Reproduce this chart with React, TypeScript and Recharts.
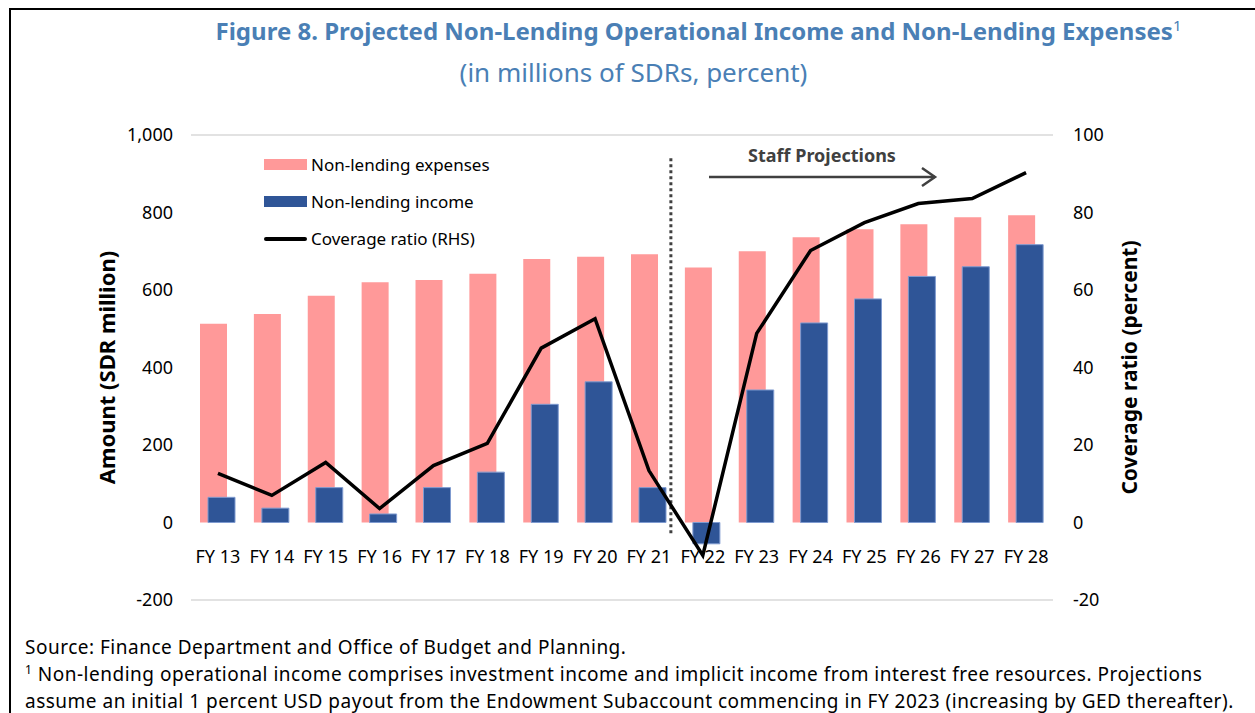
import React from 'react';
import { ComposedChart, Bar, Line, XAxis, YAxis, CartesianGrid, Legend, ReferenceLine } from 'recharts';

const years = ['FY 13', 'FY 14', 'FY 15', 'FY 16', 'FY 17', 'FY 18', 'FY 19', 'FY 20', 'FY 21', 'FY 22', 'FY 23', 'FY 24', 'FY 25', 'FY 26', 'FY 27', 'FY 28'];
const expenses = [513, 538, 585, 620, 626, 642, 680, 686, 692, 658, 700, 736, 757, 770, 788, 793];
const income = [65, 37, 90, 22, 90, 130, 305, 363, 90, -55, 342, 515, 577, 635, 660, 717];
const coverage = [12.7, 7.0, 15.5, 3.6, 14.7, 20.4, 45.0, 52.6, 13.4, -8.5, 48.8, 70.2, 77.4, 82.3, 83.6, 90.3];
const leftTicks = [-200, 0, 200, 400, 600, 800, 1000];
const rightTicks = [-20, 0, 20, 40, 60, 80, 100];

const FONT = '"Segoe UI", "Noto Sans", "Open Sans", sans-serif';
const BLUE_TITLE = '#4a7fb5';
const EXP = '#ff9999';
const INC = '#2f5597';

const data = years.map((year, i) => ({
    year,
    expenses: expenses[i],
    income: income[i],
    coverage: coverage[i],
}));

const fmt = (v: number) => v.toLocaleString('en-US');

function YearTick({ x, y, payload }: any) {
    // labels sit just under the zero line, not under the -200 line
    return (
        <text x={x} y={y - 50} textAnchor="middle" dominantBaseline="middle" fontSize={18} fill="#000" fontFamily={FONT}>
            {payload.value}
        </text>
    );
}

// divider between actuals and projections, nudged a little left of the band edge
function Divider(props: any) {
    const { x1, y1, x2, y2 } = props;
    return <line x1={x1 - 5} y1={y1} x2={x2 - 5} y2={y2} stroke="#404040" strokeWidth={3} strokeDasharray="3 3" />;
}

function LegendBox() {
    const rows = [
        { label: 'Non-lending expenses', kind: 'bar', color: EXP },
        { label: 'Non-lending income', kind: 'bar', color: INC },
        { label: 'Coverage ratio (RHS)', kind: 'line', color: '#000' },
    ];
    return (
        <div style={{ fontFamily: FONT, fontSize: 17, color: '#000' }}>
            {rows.map((r) => (
                <div key={r.label} style={{ display: 'flex', alignItems: 'center', height: 37 }}>
                    {r.kind === 'bar' ? (
                        <span style={{ display: 'inline-block', width: 43, height: 11, background: r.color }} />
                    ) : (
                        <span style={{ display: 'inline-block', width: 43, height: 4, borderRadius: 2, background: r.color }} />
                    )}
                    <span style={{ marginLeft: 4 }}>{r.label}</span>
                </div>
            ))}
        </div>
    );
}

export default function App() {
    return (
        <div style={{ position: 'absolute', left: 0, top: 0, width: 1255, height: 713, background: '#fff', overflow: 'hidden', fontFamily: FONT }}>
            <div style={{ position: 'absolute', left: 9, top: 8, width: 1300, height: 720, borderLeft: '2px solid #000', borderTop: '2px solid #000' }} />
            <div style={{ position: 'absolute', left: 71, top: 14, width: 1255, textAlign: 'center', color: BLUE_TITLE, fontWeight: 700, fontSize: 24 }}>
                Figure 8. Projected Non-Lending Operational Income and Non-Lending Expenses<sup style={{ fontWeight: 400, fontSize: 15, lineHeight: 0 }}>1</sup>
            </div>
            <div style={{ position: 'absolute', left: 6, top: 54, width: 1255, textAlign: 'center', color: BLUE_TITLE, fontSize: 26 }}>
                (in millions of SDRs, percent)
            </div>

            <div style={{ position: 'absolute', left: 0, top: 0 }}>
                <ComposedChart width={1255} height={620} data={data} margin={{ top: 135, right: 0, left: 0, bottom: 0 }} barGap={-19}>
                    <CartesianGrid horizontal vertical={false} stroke="#d9d9d9" strokeWidth={1.5} />
                    <XAxis dataKey="year" axisLine={false} tickLine={false} height={20} interval={0} tick={<YearTick />} />
                    <YAxis
                        yAxisId="left"
                        domain={[-200, 1000]}
                        ticks={leftTicks}
                        tickFormatter={fmt}
                        axisLine={false}
                        tickLine={false}
                        width={191}
                        tickMargin={12}
                        tick={{ fontSize: 18, fill: '#000', fontFamily: FONT }}
                        label={{ value: 'Amount (SDR million)', angle: -90, position: 'insideLeft', offset: 107, style: { textAnchor: 'middle', fontWeight: 700, fontSize: 22, fill: '#000', fontFamily: FONT } }}
                    />
                    <YAxis
                        yAxisId="right"
                        orientation="right"
                        domain={[-20, 100]}
                        ticks={rightTicks}
                        axisLine={false}
                        tickLine={false}
                        width={202}
                        tickMargin={14}
                        tick={{ fontSize: 18, fill: '#000', fontFamily: FONT, textAnchor: 'start' }}
                        label={{ value: 'Coverage ratio (percent)', angle: -90, position: 'insideRight', offset: 125, style: { textAnchor: 'middle', fontWeight: 700, fontSize: 21, fill: '#000', fontFamily: FONT } }}
                    />
                    <Legend content={<LegendBox />} layout="vertical" verticalAlign="middle" align="center" wrapperStyle={{ position: 'absolute', left: 264, top: 146, width: 300 }} />
                    <ReferenceLine
                        yAxisId="left"
                        segment={[{ x: 'FY 22', y: -28 }, { x: 'FY 22', y: 943 }]}
                        position="start"
                        shape={<Divider />}
                    />
                    <Bar yAxisId="left" dataKey="expenses" name="Non-lending expenses" fill={EXP} barSize={27} isAnimationActive={false} />
                    <Bar yAxisId="left" dataKey="income" name="Non-lending income" fill={INC} stroke="#7f9bd0" strokeWidth={1} barSize={27} isAnimationActive={false} />
                    <Line yAxisId="right" dataKey="coverage" name="Coverage ratio (RHS)" stroke="#000" strokeWidth={3.5} dot={false} activeDot={false} isAnimationActive={false} />
                </ComposedChart>
            </div>

            <svg style={{ position: 'absolute', left: 0, top: 0 }} width={1255} height={713}>
                <text x={822} y={162} textAnchor="middle" fontSize={18} fontWeight={700} fill="#404040" fontFamily={FONT}>Staff Projections</text>
                <line x1={709} y1={177} x2={935} y2={177} stroke="#404040" strokeWidth={2.5} />
                <polyline points="922,168 935,177 922,186" fill="none" stroke="#404040" strokeWidth={2.5} />
            </svg>

            <div style={{ position: 'absolute', left: 25, top: 634, fontSize: 19, letterSpacing: 0.5, lineHeight: '27px', color: '#000', whiteSpace: 'nowrap' }}>
                <div>Source: Finance Department and Office of Budget and Planning.</div>
                <div><sup style={{ fontSize: 12, lineHeight: 0 }}>1</sup> Non-lending operational income comprises investment income and implicit income from interest free resources. Projections</div>
                <div>assume an initial 1 percent USD payout from the Endowment Subaccount commencing in FY 2023 (increasing by GED thereafter).</div>
            </div>
        </div>
    );
}
